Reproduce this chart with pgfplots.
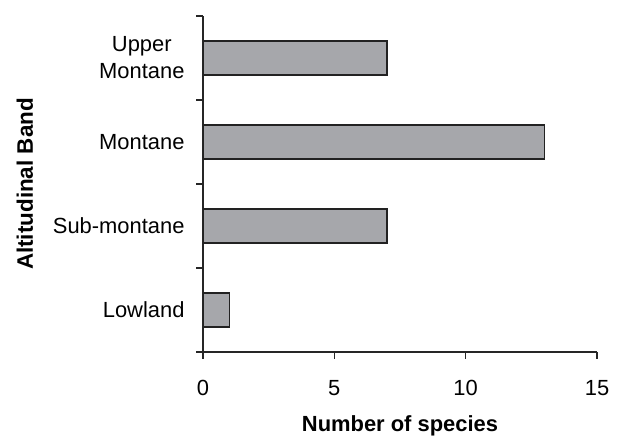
\documentclass[border=0pt]{standalone}
\usepackage{pgfplots}
\pgfplotsset{compat=1.18}
\usepackage{fontspec}
\setmainfont{Liberation Sans}
\definecolor{barfill}{RGB}{166,167,171}
\definecolor{baredge}{RGB}{34,34,34}
\begin{document}
\begin{tikzpicture}[x=1bp,y=1bp]
\path[use as bounding box] (0,0) rectangle (622,437);
\begin{axis}[
  at={(203bp,85bp)}, anchor=south west,
  width=394bp, height=336bp, scale only axis,
  xbar, bar width=34bp,
  xmin=0, xmax=15, ymin=-0.5, ymax=3.5,
  axis lines*=left,
  axis line style={line width=1.1bp, draw=black!85},
  xtick={0,5,10,15},
  ytick={0,1,2,3},
  yticklabels={Lowland,Sub-montane,Montane,{Upper\\Montane}},
  minor ytick={-0.5,0.5,1.5,2.5,3.5},
  tick align=outside,
  major tick length=7bp, minor tick length=7bp,
  x tick style={line width=1.1bp, draw=black!85},
  y tick style={draw=none},
  minor y tick style={draw=black!85, line width=1.1bp},
  tick label style={font=\fontsize{22}{27}\selectfont},
  /pgf/number format/assume math mode=true,
  yticklabel style={align=center, xshift=-8bp},
  xticklabel style={yshift=-18bp},
  xlabel={\textbf{Number of species}},
  ylabel={\textbf{Altitudinal Band}},
  label style={font=\fontsize{22}{26}\selectfont},
  xlabel style={at={(axis description cs:0.5,-0.238)}, anchor=base},
  ylabel style={at={(axis description cs:-0.452,0.5)}, anchor=center, font=\fontsize{22.5}{26}\selectfont},
]
\addplot[fill=barfill, draw=baredge, line width=1.4bp] coordinates {
  (1,0) (7,1) (13,2) (7,3)
};
\end{axis}
\end{tikzpicture}
\end{document}
